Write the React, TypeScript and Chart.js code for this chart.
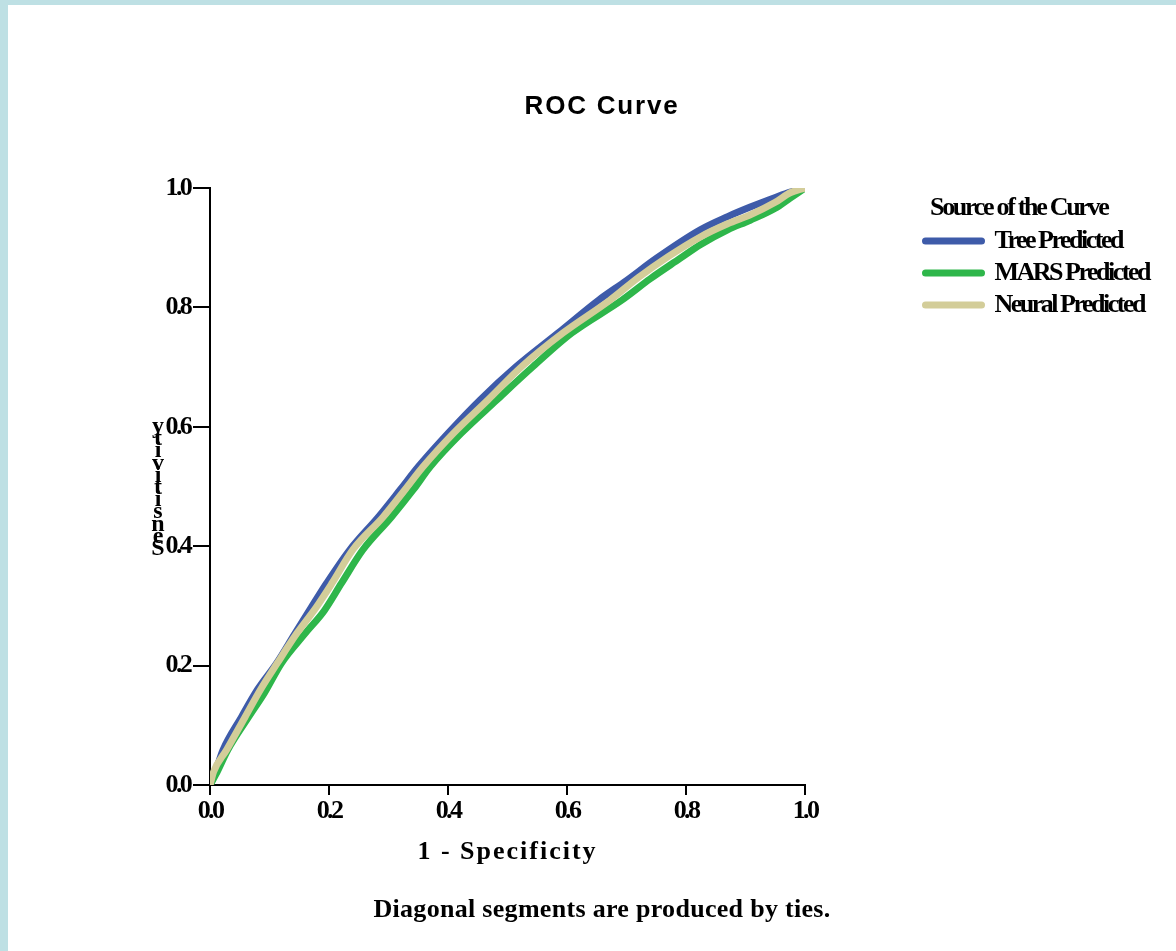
import React, { useEffect, useRef } from 'react';
import { Chart, registerables } from 'chart.js';

Chart.register(...registerables);

// ---------- text ----------
const TITLE = 'ROC Curve';
const X_TITLE = '1 - Specificity';
const Y_TITLE = 'Sensitivity';
const FOOTNOTE = 'Diagonal segments are produced by ties.';
const LEGEND_TITLE = 'Source of the Curve';
const SERIES_NAMES = ['Tree Predicted', 'MARS Predicted', 'Neural Predicted'];
const SERIES_COLORS = ['#3e5ba9', '#2eb64a', '#d3cd99'];

// ---------- axis ticks ----------
const TICK_VALUES = [0, 0.2, 0.4, 0.6, 0.8, 1.0];
const TICK_LABELS = ['0.0', '0.2', '0.4', '0.6', '0.8', '1.0'];

// ---------- data (1 - specificity, sensitivity) ----------
const TREE_FPR = [0, 0.010, 0.022, 0.053, 0.080, 0.112, 0.143, 0.170, 0.196, 0.235, 0.283, 0.320, 0.350, 0.400, 0.454, 0.515, 0.585, 0.653, 0.700, 0.750, 0.824, 0.870, 0.908, 0.950, 0.975, 1.000];
const TREE_TPR = [0, 0.025, 0.059, 0.114, 0.160, 0.204, 0.254, 0.297, 0.338, 0.394, 0.449, 0.495, 0.533, 0.589, 0.645, 0.701, 0.757, 0.812, 0.845, 0.882, 0.930, 0.952, 0.968, 0.984, 0.993, 1.000];

const MARS_FPR = [0, 0.010, 0.030, 0.065, 0.092, 0.120, 0.160, 0.192, 0.221, 0.257, 0.305, 0.342, 0.370, 0.422, 0.482, 0.543, 0.608, 0.692, 0.740, 0.790, 0.824, 0.870, 0.908, 0.950, 0.975, 1.000];
const MARS_TPR = [0, 0.018, 0.059, 0.114, 0.155, 0.204, 0.254, 0.292, 0.338, 0.394, 0.449, 0.495, 0.533, 0.589, 0.645, 0.701, 0.757, 0.812, 0.848, 0.882, 0.905, 0.930, 0.946, 0.966, 0.983, 1.000];

const NEURAL_FPR = [0, 0.006, 0.028, 0.059, 0.085, 0.113, 0.146, 0.178, 0.205, 0.240, 0.291, 0.328, 0.358, 0.409, 0.467, 0.524, 0.593, 0.672, 0.720, 0.770, 0.824, 0.870, 0.908, 0.950, 0.975, 1.000];
const NEURAL_TPR = [0, 0.022, 0.059, 0.114, 0.160, 0.204, 0.254, 0.297, 0.338, 0.394, 0.449, 0.495, 0.533, 0.589, 0.645, 0.701, 0.757, 0.812, 0.850, 0.885, 0.918, 0.940, 0.955, 0.976, 0.992, 1.000];

// ---------- fonts (each family string gets its own letter spacing) ----------
const FAM_TICK = '"Liberation Serif", serif';
const FAM_LEG = '"Liberation Serif", Tinos, serif';
const FAM_LEGT = '"Liberation Serif", Times, serif';
const FAM_AXT = '"Liberation Serif", "Nimbus Roman", serif';
const FAM_FOOT = '"Liberation Serif", "DejaVu Serif", serif';
const FAM_TITLE = '"Liberation Sans", Arial, sans-serif';
const FAM_YL = '"Liberation Serif", "Times New Roman", serif';

const SPACING: [string, number][] = [
  [FAM_TICK, -2.7],
  [FAM_LEG, -2.5],
  [FAM_LEGT, -2.3],
  [FAM_AXT, 2.0],
  [FAM_FOOT, 0.3],
  [FAM_TITLE, 1.8],
  [FAM_YL, 0],
];

function patchContext(ctx: any) {
  const desc = Object.getOwnPropertyDescriptor(CanvasRenderingContext2D.prototype, 'font');
  if (!desc || !desc.get || !desc.set) return;
  Object.defineProperty(ctx, 'font', {
    configurable: true,
    get() {
      return desc.get!.call(this);
    },
    set(v: string) {
      desc.set!.call(this, v);
      let sp = 0;
      for (const [fam, s] of SPACING) {
        if (typeof v === 'string' && v.endsWith('px ' + fam)) {
          sp = s;
          break;
        }
      }
      if ('letterSpacing' in this) (this as any).letterSpacing = sp + 'px';
    },
  });
}

function toPoints(xs: number[], ys: number[]) {
  return xs.map((x, i) => ({ x, y: ys[i] }));
}

const tickCallback = (value: any) => {
  const i = TICK_VALUES.findIndex((t) => Math.abs(t - Number(value)) < 1e-6);
  return i >= 0 ? TICK_LABELS[i] : '';
};

const customPlugin = {
  id: 'rocCustom',
  afterLayout(chart: any) {
    const lg = chart.legend;
    const ca = chart.chartArea;
    if (lg && ca) {
      const left = ca.right + 114.5;
      const top = ca.top + 34;
      lg.left = left;
      lg.top = top;
      lg.width = 280;
      lg.height = 220;
      lg.right = left + 280;
      lg.bottom = top + 220;
    }
  },
  afterDraw(chart: any) {
    const ctx = chart.ctx;
    const ca = chart.chartArea;
    ctx.save();
    ctx.fillStyle = '#000';
    // stacked, upright y-axis title
    ctx.font = `bold 24px ${FAM_YL}`;
    ctx.textAlign = 'center';
    ctx.textBaseline = 'alphabetic';
    const chars = Y_TITLE.split('').reverse();
    chars.forEach((c, i) => ctx.fillText(c, ca.left - 52, ca.top + 245 + 12.2 * i));
    // legend title
    ctx.font = `bold 26px ${FAM_LEGT}`;
    ctx.textAlign = 'left';
    ctx.textBaseline = 'middle';
    ctx.fillText(LEGEND_TITLE, ca.right + 125, ca.top + 20);
    ctx.restore();
  },
};

export default function App() {
  const ref = useRef<HTMLCanvasElement | null>(null);

  useEffect(() => {
    const canvas = ref.current;
    if (!canvas) return;
    const ctx = canvas.getContext('2d');
    if (!ctx) return;
    patchContext(ctx);

    const series = [
      { fpr: TREE_FPR, tpr: TREE_TPR, order: 3 },
      { fpr: MARS_FPR, tpr: MARS_TPR, order: 2 },
      { fpr: NEURAL_FPR, tpr: NEURAL_TPR, order: 1 },
    ];

    const datasets = series.map((s, i) => ({
      label: SERIES_NAMES[i],
      data: toPoints(s.fpr, s.tpr),
      borderColor: SERIES_COLORS[i],
      backgroundColor: SERIES_COLORS[i],
      borderWidth: 7,
      borderCapStyle: 'round' as const,
      borderJoinStyle: 'round' as const,
      pointRadius: 0,
      pointHoverRadius: 0,
      fill: false,
      cubicInterpolationMode: 'monotone' as const,
      order: s.order,
    }));

    const tickFont = { family: FAM_TICK, size: 26, weight: 'bold' as const };

    const chart = new Chart(ctx, {
      type: 'line',
      data: { datasets },
      options: {
        animation: false,
        responsive: false,
        maintainAspectRatio: false,
        devicePixelRatio: 1,
        events: [],
        layout: { padding: { left: 20, right: 0, top: 0, bottom: 0 } },
        scales: {
          x: {
            type: 'linear',
            min: 0,
            max: 1,
            ticks: {
              stepSize: 0.2,
              padding: 1,
              color: '#000',
              font: tickFont,
              maxRotation: 0,
              autoSkip: false,
              callback: tickCallback,
            },
            grid: {
              display: true,
              drawOnChartArea: false,
              drawTicks: true,
              tickLength: 10,
              color: '#000',
              lineWidth: 2,
            },
            border: { display: true, color: '#000', width: 2 },
            title: {
              display: true,
              text: X_TITLE,
              color: '#000',
              font: { family: FAM_AXT, size: 26, weight: 'bold' },
              padding: { top: 0, bottom: 16.8 },
            },
            afterFit: (s: any) => {
              s.height = 99.4;
              s.paddingRight = 371;
            },
          },
          y: {
            type: 'linear',
            min: 0,
            max: 1,
            ticks: {
              stepSize: 0.2,
              padding: 3,
              color: '#000',
              font: tickFont,
              autoSkip: false,
              callback: tickCallback,
            },
            grid: {
              display: true,
              drawOnChartArea: false,
              drawTicks: true,
              tickLength: 17,
              color: '#000',
              lineWidth: 2,
            },
            border: { display: true, color: '#000', width: 2 },
            title: { display: false },
            afterFit: (s: any) => {
              s.width = 182;
            },
          },
        },
        plugins: {
          title: {
            display: true,
            text: TITLE,
            color: '#000',
            font: { family: FAM_TITLE, size: 26, weight: 'bold', lineHeight: 1.2 },
            padding: { top: 86.4, bottom: 65.4 },
          },
          subtitle: {
            display: true,
            position: 'bottom',
            text: FOOTNOTE,
            color: '#000',
            font: { family: FAM_FOOT, size: 26, weight: 'bold', lineHeight: 1.2 },
            padding: { top: 10, bottom: 25.4 },
          },
          legend: {
            display: true,
            position: 'right',
            align: 'start',
            maxWidth: 1,
            labels: {
              usePointStyle: true,
              pointStyleWidth: 56,
              padding: 6,
              color: '#000',
              font: { family: FAM_LEG, size: 26, weight: 'bold' },
              generateLabels: (c: any) =>
                c.data.datasets.map((ds: any, i: number) => ({
                  text: ds.label,
                  strokeStyle: ds.borderColor,
                  fillStyle: ds.borderColor,
                  lineWidth: ds.borderWidth,
                  lineCap: 'round',
                  pointStyle: 'line',
                  hidden: false,
                  datasetIndex: i,
                  fontColor: '#000',
                })),
            },
          },
          tooltip: { enabled: false },
        },
      },
      plugins: [customPlugin],
    });

    return () => {
      chart.destroy();
    };
  }, []);

  return (
    <div
      style={{
        position: 'fixed',
        left: 0,
        top: 0,
        width: 1176,
        height: 951,
        background: '#bee0e4',
        overflow: 'hidden',
      }}
    >
      <div
        style={{
          position: 'absolute',
          left: 8,
          top: 5,
          width: 1168,
          height: 946,
          background: '#ffffff',
        }}
      >
        <canvas ref={ref} width={1168} height={946} style={{ display: 'block', width: 1168, height: 946 }} />
      </div>
    </div>
  );
}
